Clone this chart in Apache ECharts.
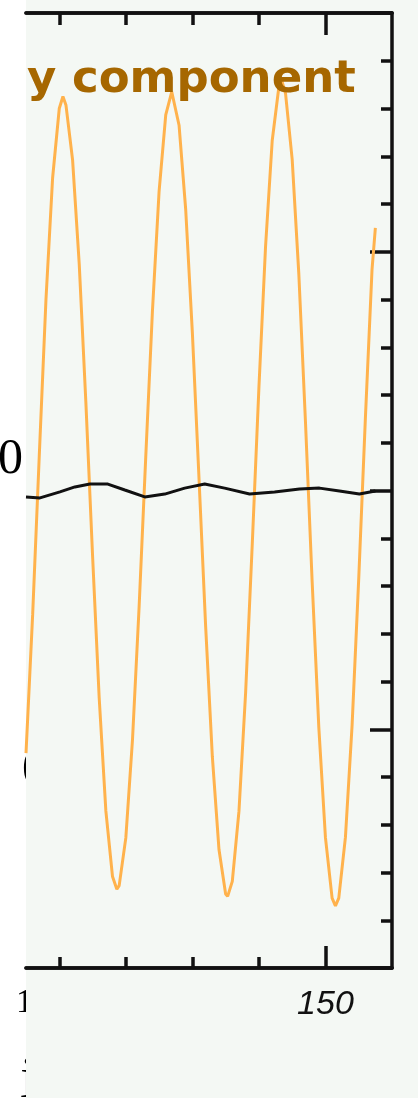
<!DOCTYPE html>
<html>
<head>
<meta charset="utf-8">
<script src="https://cdn.jsdelivr.net/npm/echarts@6/dist/echarts.min.js"></script>
<style>
html,body{margin:0;padding:0;background:#ffffff;}
#chart{width:418px;height:1098px;}
</style>
</head>
<body>
<div id="chart"></div>
<script>
// ---- data ----
const titleText = 'y component';
const orangeX = [105,106,107,108,109,110,110.55,111,112,113,114,115,116,117,118,118.65,119,120,121,122,123,124,125,126,126.9,127,128,129,130,131,132,133,134,135,135.3,136,137,138,139,140,141,142,143,143.4,144,145,146,147,148,149,150,151,151.5,152,153,154,155,156,157,157.5];
const orangeY = [-1.10,-0.52,0.15,0.80,1.31,1.60,1.65,1.615,1.385,0.948,0.367,-0.271,-0.869,-1.342,-1.617,-1.67,-1.655,-1.455,-1.045,-0.486,0.144,0.752,1.253,1.573,1.67,1.669,1.53,1.176,0.661,0.049,-0.571,-1.114,-1.504,-1.69,-1.70,-1.637,-1.344,-0.848,-0.225,0.431,1.023,1.466,1.69,1.72,1.663,1.387,0.906,0.285,-0.381,-0.991,-1.454,-1.707,-1.74,-1.707,-1.453,-0.985,-0.369,0.303,0.926,1.10];
const blackX = [105,107.1,110.1,112.35,114.6,117.3,119.85,122.85,125.85,128.85,131.85,134.85,138.6,142.35,146.1,149.1,152.1,155.1,157.5];
const blackY = [-0.027,-0.031,-0.006,0.015,0.027,0.027,0.002,-0.027,-0.015,0.010,0.027,0.010,-0.015,-0.006,0.006,0.010,-0.002,-0.015,-0.002];
const xMinorTicks = [110,120,130,140];
const xMajorTicks = [150];
const xTickLabels = [150];
const leftFragments = ['0','0','1','i'];

// ---- chart ----
const chart = echarts.init(document.getElementById('chart'), null, {renderer:'canvas'});
const pairs = (xs, ys) => xs.map((x,i)=>[x, ys[i]]);
const AX = '#111111';
const LW = 3.5;
const TW = 3.5;
const xBase = {
  type:'value', min:105, max:160, z:10,
  splitLine:{show:false}, minorSplitLine:{show:false}
};
const option = {
  animation:false,
  backgroundColor:'#ffffff',
  grid:{left:26, right:26, top:13, bottom:130, containLabel:false},
  xAxis:[
    Object.assign({}, xBase, {position:'bottom',
      axisLine:{show:true, onZero:false, lineStyle:{color:AX, width:LW}},
      axisTick:{show:true, inside:true, length:11, customValues:xMinorTicks, lineStyle:{color:AX, width:TW}},
      axisLabel:{show:false}}),
    Object.assign({}, xBase, {position:'bottom',
      axisLine:{show:true, onZero:false, lineStyle:{color:AX, width:LW}},
      axisTick:{show:true, inside:true, length:22, customValues:xMajorTicks, lineStyle:{color:AX, width:TW}},
      axisLabel:{show:true, customValues:xTickLabels, margin:20, color:'#111',
        fontFamily:'Liberation Sans', fontStyle:'italic', fontSize:34}}),
    Object.assign({}, xBase, {position:'top',
      axisLine:{show:true, onZero:false, lineStyle:{color:AX, width:LW}},
      axisTick:{show:true, inside:true, length:12, customValues:xMinorTicks, lineStyle:{color:AX, width:TW}},
      axisLabel:{show:false}}),
    Object.assign({}, xBase, {position:'top',
      axisLine:{show:true, onZero:false, lineStyle:{color:AX, width:LW}},
      axisTick:{show:true, inside:true, length:22, customValues:xMajorTicks, lineStyle:{color:AX, width:TW}},
      axisLabel:{show:false, customValues:xTickLabels}})
  ],
  yAxis:[{
    type:'value', min:-2, max:2, interval:1, position:'right', z:10,
    axisLine:{show:true, onZero:false, lineStyle:{color:AX, width:LW}},
    axisTick:{show:true, inside:true, length:22, lineStyle:{color:AX, width:TW}},
    minorTick:{show:true, splitNumber:5, length:11, lineStyle:{color:AX, width:TW}},
    axisLabel:{show:false},
    splitLine:{show:false}, minorSplitLine:{show:false}
  }],
  graphic:[
    {type:'rect', z:0, shape:{x:0, y:0, width:26, height:1098}, style:{fill:'#ffffff'}, silent:true},
    {type:'text', z:1, x:23, y:460, style:{text:leftFragments[0], fill:'#000', font:'50px "Liberation Serif"', align:'right', verticalAlign:'middle'}},
    {type:'text', z:1, x:22, y:771, style:{text:leftFragments[1], fill:'#000', font:'50px "Liberation Serif"', align:'left', verticalAlign:'middle'}},
    {type:'text', z:1, x:16, y:1003, style:{text:leftFragments[2], fill:'#000', font:'34px "Liberation Serif"', align:'left', verticalAlign:'middle'}},
    {type:'text', z:1, x:20, y:1081, style:{text:leftFragments[3], fill:'#000', font:'60px "Liberation Serif"', align:'left', verticalAlign:'middle'}},
    {type:'rect', z:2, shape:{x:26, y:0, width:392, height:1098}, style:{fill:'#f4f8f4'}, silent:true},
    {type:'text', z:30, x:27, y:80, style:{text:titleText, fill:'#a66700', font:'bold 45px "DejaVu Sans"', align:'left', verticalAlign:'middle'}}
  ],
  series:[
    {type:'line', name:'orange', z:10, xAxisIndex:0, yAxisIndex:0, showSymbol:false, symbol:'none',
     data:pairs(orangeX, orangeY), lineStyle:{color:'#ffb24c', width:3}, clip:true},
    {type:'line', name:'black', z:11, xAxisIndex:0, yAxisIndex:0, showSymbol:false, symbol:'none',
     data:pairs(blackX, blackY), lineStyle:{color:'#111111', width:3}, clip:true}
  ]
};
chart.setOption(option);
</script>
</body>
</html>
